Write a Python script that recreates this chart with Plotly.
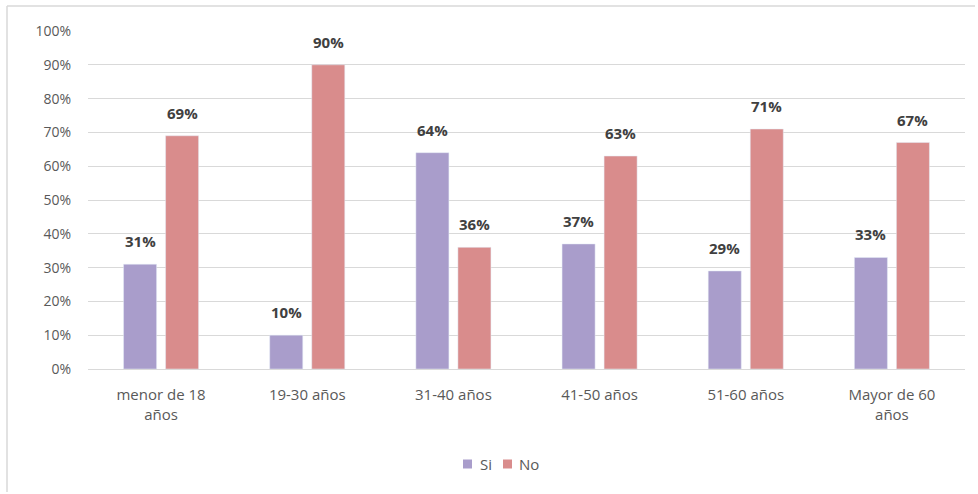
import plotly.graph_objects as go

categories = ["menor de 18<br>años", "19-30 años", "31-40 años", "41-50 años", "51-60 años", "Mayor de 60<br>años"]
series_names = ["Si", "No"]
si_values = [0.31, 0.10, 0.64, 0.37, 0.29, 0.33]
no_values = [0.69, 0.90, 0.36, 0.63, 0.71, 0.67]
colors = ["#a99dcb", "#d98c8c"]
tick_vals = [i / 10 for i in range(11)]
tick_text = [f"{i*10}%" for i in range(11)]

W, H = 978, 494
ml, mr, mt, mb = 88, 13, 31, 125
pw, ph = W - ml - mr, H - mt - mb

fig = go.Figure()
for name, vals, col in zip(series_names, [si_values, no_values], colors):
    fig.add_trace(go.Bar(name=name, x=categories, y=vals, marker_color=col, showlegend=False))

# data labels (bold, above bars)
cat_w = pw / len(categories)
bargap, bargroupgap = 0.425, 0.214
slot = cat_w * (1 - bargap) / 2
for k, vals in enumerate([si_values, no_values]):
    shift = (k - 0.5) * slot
    for c, v in zip(categories, vals):
        fig.add_annotation(x=c, y=v, text=f"<b>{round(v*100)}%</b>", showarrow=False,
                           xshift=shift, yshift=11, yanchor="bottom",
                           font=dict(size=15, color="#404040", family="Open Sans"))

fig.update_layout(
    width=W, height=H,
    margin=dict(l=ml, r=mr, t=mt, b=mb),
    paper_bgcolor="white", plot_bgcolor="white",
    barmode="group", bargap=bargap, bargroupgap=bargroupgap,
    font=dict(family="Open Sans", size=15, color="#595959"),
    xaxis=dict(showgrid=False, showline=True, linecolor="#d9d9d9", linewidth=1,
               ticks="", tickfont=dict(size=15, color="#595959"), ticklabelstandoff=12),
    yaxis=dict(range=[0, 1], tickvals=tick_vals, ticktext=tick_text, showgrid=True,
               gridcolor="#d9d9d9", gridwidth=1, zeroline=False, showline=False,
               tickfont=dict(size=14, color="#595959"), ticks="", ticklabelstandoff=16),
    showlegend=False,
)

# custom legend
leg_y = (H - 464 - mb) / ph
items = [(463, 478, "Si", colors[0]), (503, 517, "No", colors[1])]
for mx, tx, name, col in items:
    fig.add_shape(type="rect", xref="paper", yref="paper",
                  x0=(mx - ml) / pw, x1=(mx + 9 - ml) / pw,
                  y0=leg_y - 4.5 / ph, y1=leg_y + 4.5 / ph,
                  fillcolor=col, line=dict(width=0))
    fig.add_annotation(xref="paper", yref="paper", x=(tx - ml) / pw, y=leg_y, text=name,
                       showarrow=False, xanchor="left", yanchor="middle",
                       font=dict(size=15, color="#595959", family="Open Sans"))

# outer chart border (left and top edges visible)
x0 = (7 - ml) / pw
y_top = 1 + (mt - 6) / ph
y_bot = -(mb - 2) / ph
fig.add_shape(type="line", xref="paper", yref="paper", x0=x0, x1=x0, y0=y_bot, y1=y_top,
              line=dict(color="#d9d9d9", width=1.5))
fig.add_shape(type="line", xref="paper", yref="paper", x0=x0, x1=1 + (mr - 3) / pw, y0=y_top, y1=y_top,
              line=dict(color="#d9d9d9", width=1.5))

fig.write_html("out.html", config={"displayModeBar": False},
               post_script="document.body.style.margin='0px';")
